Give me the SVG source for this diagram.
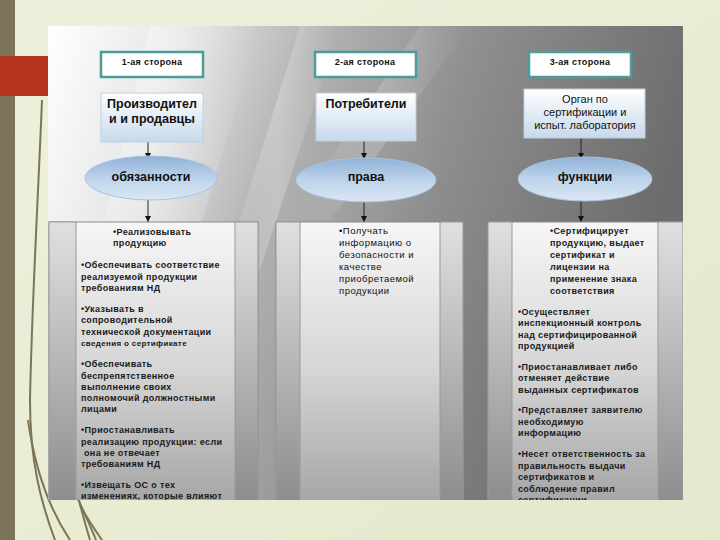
<svg xmlns="http://www.w3.org/2000/svg" width="720" height="540" viewBox="0 0 720 540">
<defs>
<linearGradient id="page" x1="0" y1="0" x2="1" y2="1">
<stop offset="0" stop-color="#eef0dc"/><stop offset="1" stop-color="#e3e9cc"/>
</linearGradient>
<linearGradient id="pic" x1="0" y1="0" x2="1" y2="0.25">
<stop offset="0" stop-color="#ffffff"/><stop offset="0.2" stop-color="#e6e6e6"/><stop offset="0.4" stop-color="#b4b4b4"/><stop offset="0.65" stop-color="#8e8e8e"/><stop offset="1" stop-color="#6c6c6c"/>
</linearGradient>
<linearGradient id="streak" x1="0" y1="0" x2="1" y2="0">
<stop offset="0" stop-color="#fff" stop-opacity="0"/><stop offset="0.5" stop-color="#fff" stop-opacity="0.35"/><stop offset="1" stop-color="#fff" stop-opacity="0"/>
</linearGradient>
<linearGradient id="boxfill" x1="0" y1="0" x2="0" y2="1">
<stop offset="0" stop-color="#ffffff"/><stop offset="1" stop-color="#c6d9ec"/>
</linearGradient>
<linearGradient id="ellfill" x1="0" y1="0" x2="0" y2="1">
<stop offset="0" stop-color="#8fb2d8"/><stop offset="0.5" stop-color="#bdd3ea"/><stop offset="1" stop-color="#dbe7f3"/>
</linearGradient>
<linearGradient id="tab" x1="0" y1="0" x2="0" y2="1">
<stop offset="0" stop-color="#f6f6f6"/><stop offset="0.5" stop-color="#d6d6d6"/><stop offset="1" stop-color="#a2a2a2"/>
</linearGradient>
<linearGradient id="side" x1="0" y1="0" x2="0" y2="1">
<stop offset="0" stop-color="#e0e0e0"/><stop offset="1" stop-color="#8a8a8a"/>
</linearGradient>
<marker id="ah" viewBox="0 0 10 10" refX="10" refY="5" markerWidth="6" markerHeight="6" orient="auto">
<path d="M0,0 L10,5 L0,10 z" fill="#111"/>
</marker>
<clipPath id="picclip"><rect x="48" y="26" width="635" height="474"/></clipPath>
<style>
.hdr{fill:#ffffff;stroke:#4b9c9c;stroke-width:2.5}
.hdrt{font-family:"Liberation Sans",Arial,sans-serif;font-size:9px;font-weight:bold;fill:#111;text-anchor:middle;letter-spacing:0.3px}
.box{fill:url(#boxfill);stroke:#c0cfdd;stroke-width:1}
.boxt{font-family:"Liberation Sans",Arial,sans-serif;font-size:12.5px;font-weight:bold;fill:#111;text-anchor:middle}
.boxn{font-family:"Liberation Sans",Arial,sans-serif;font-size:11px;fill:#111;text-anchor:middle}
.ell{fill:url(#ellfill);stroke:#a9c3de;stroke-width:1}
.ellt{font-family:"Liberation Sans",Arial,sans-serif;font-size:12.5px;font-weight:bold;fill:#111;text-anchor:middle}
.tab{fill:url(#tab);stroke:#8a8a8a;stroke-width:1}
.side{fill:url(#side);stroke:#999;stroke-width:1}
.tt{font-family:"Liberation Sans",Arial,sans-serif;font-size:9px;font-weight:bold;fill:#1a1a1a;letter-spacing:0.35px}
.tn{font-family:"Liberation Sans",Arial,sans-serif;font-size:9.5px;fill:#111;letter-spacing:0.5px}
.conn{stroke:#222;stroke-width:1;fill:none;marker-end:url(#ah)}
.deco{fill:none;stroke:#7d7656;stroke-width:2}
</style>
</defs>
<rect width="720" height="540" fill="url(#page)"/>
<rect x="0" y="0" width="15" height="540" fill="#7b7458"/>
<g id="decoration">
<path class="deco" d="M42,100 C38,200 32,300 30,400 C30,460 40,500 55,540" stroke-width="1.5"/>
<path class="deco" d="M60,380 C62,430 72,480 90,540" stroke-width="2.5"/>
<path class="deco" d="M70,480 C80,505 88,520 96,540" stroke-width="3"/>
<path class="deco" d="M28,420 C35,470 50,510 70,540" stroke="#c8caa8" stroke-width="3"/>
<path class="deco" d="M80,505 C88,520 95,530 102,540" stroke-width="2"/>
</g>
<rect x="0" y="56" width="48" height="40" fill="#b3341b"/>
<g clip-path="url(#picclip)">
<rect x="48" y="26" width="635" height="474" fill="url(#pic)"/>
<polygon points="150,26 260,26 120,500 40,500" fill="url(#streak)"/>
<polygon points="300,26 340,26 250,300 215,300" fill="url(#streak)" opacity="0.7"/>
<polygon points="420,26 470,26 330,220 290,220" fill="url(#streak)" opacity="0.5"/>
</g>
<g id="connectors">
<line class="conn" x1="148" y1="142" x2="148" y2="159"/>
<line class="conn" x1="364" y1="141" x2="364" y2="159"/>
<line class="conn" x1="581" y1="138" x2="581" y2="159"/>
<line class="conn" x1="148" y1="199" x2="148" y2="222"/>
<line class="conn" x1="364" y1="201" x2="364" y2="222"/>
<line class="conn" x1="581" y1="200" x2="581" y2="222"/>
</g>
<g id="side1-header"><rect class="hdr" x="101" y="52" width="102" height="25"/><text class="hdrt" x="152" y="65">1-ая сторона</text></g>
<g id="side2-header"><rect class="hdr" x="315" y="52" width="101" height="25"/><text class="hdrt" x="365" y="65">2-ая сторона</text></g>
<g id="side3-header"><rect class="hdr" x="529" y="52" width="102" height="25"/><text class="hdrt" x="580" y="65">3-ая сторона</text></g>
<g id="producers"><rect class="box" x="101" y="93" width="102" height="49"/><text class="boxt" x="152" y="108">Производител</text><text class="boxt" x="152" y="123">и и продавцы</text></g>
<g id="consumers"><rect class="box" x="316" y="93" width="100" height="48"/><text class="boxt" x="366" y="108">Потребители</text></g>
<g id="certbody"><rect class="box" x="524" y="89" width="121" height="49"/><text class="boxn" x="585" y="103">Орган по</text><text class="boxn" x="585" y="116">сертификации и</text><text class="boxn" x="585" y="129">испыт. лаборатория</text></g>
<g id="duties"><ellipse class="ell" cx="151" cy="178" rx="66" ry="22"/><text class="ellt" x="151" y="181">обязанности</text></g>
<g id="rights"><ellipse class="ell" cx="366" cy="180" rx="70" ry="22"/><text class="ellt" x="366" y="181">права</text></g>
<g id="functions"><ellipse class="ell" cx="585" cy="179" rx="67" ry="22"/><text class="ellt" x="585" y="181">функции</text></g>
<g clip-path="url(#picclip)">
<g id="table1">
<rect class="tab" x="49" y="222" width="209" height="290"/>
<rect class="side" x="49" y="222" width="27" height="290"/>
<rect class="side" x="235" y="222" width="23" height="290"/>
<text class="tt"><tspan x="113" y="235">•Реализовывать</tspan><tspan x="113" y="246">продукцию</tspan>
<tspan x="81" y="268">•Обеспечивать  соответствие</tspan><tspan x="81" y="280">реализуемой продукции</tspan><tspan x="81" y="291">требованиям НД</tspan>
<tspan x="81" y="312">•Указывать в</tspan><tspan x="81" y="323">сопроводительной</tspan><tspan x="81" y="335">технической документации</tspan><tspan x="81" y="346" font-size="8px">сведения о сертификате</tspan>
<tspan x="81" y="367">•Обеспечивать</tspan><tspan x="81" y="379">беспрепятственное</tspan><tspan x="81" y="390">выполнение своих</tspan><tspan x="81" y="401">полномочий должностными</tspan><tspan x="81" y="412">лицами</tspan>
<tspan x="81" y="433">•Приостанавливать</tspan><tspan x="81" y="445">реализацию продукции: если</tspan><tspan x="84" y="456">она не отвечает</tspan><tspan x="81" y="467">требованиям НД</tspan>
<tspan x="81" y="488">•Извещать ОС о тех</tspan><tspan x="81" y="499">изменениях, которые влияют</tspan></text>
</g>
<g id="table2">
<rect class="tab" x="276" y="222" width="187" height="290"/>
<rect class="side" x="276" y="222" width="24" height="290"/>
<rect class="side" x="440" y="222" width="23" height="290"/>
<text class="tn"><tspan x="339" y="234">•Получать</tspan><tspan x="339" y="246">информацию о</tspan><tspan x="339" y="258">безопасности  и</tspan><tspan x="339" y="270">качестве</tspan><tspan x="339" y="282">приобретаемой</tspan><tspan x="339" y="294">продукции</tspan></text>
</g>
<g id="table3">
<rect class="tab" x="488" y="222" width="195" height="290"/>
<rect class="side" x="488" y="222" width="24" height="290"/>
<rect class="side" x="658" y="222" width="25" height="290"/>
<text class="tt"><tspan x="550" y="234">•Сертифицирует</tspan><tspan x="550" y="246">продукцию, выдает</tspan><tspan x="550" y="258">сертификат и</tspan><tspan x="550" y="270">лицензии на</tspan><tspan x="550" y="282">применение знака</tspan><tspan x="550" y="294">соответствия</tspan>
<tspan x="518" y="315">•Осуществляет</tspan><tspan x="518" y="326">инспекционный контроль</tspan><tspan x="518" y="338">над сертифицированной</tspan><tspan x="518" y="349">продукцией</tspan>
<tspan x="518" y="370">•Приостанавливает либо</tspan><tspan x="518" y="381">отменяет действие</tspan><tspan x="518" y="393">выданных сертификатов</tspan>
<tspan x="518" y="413">•Представляет заявителю</tspan><tspan x="518" y="425">необходимую</tspan><tspan x="518" y="436">информацию</tspan>
<tspan x="518" y="457">•Несет ответственность за</tspan><tspan x="518" y="469">правильность выдачи</tspan><tspan x="518" y="480">сертификатов и</tspan><tspan x="518" y="492">соблюдение правил</tspan><tspan x="518" y="503">сертификации</tspan></text>
</g>
</g>
</svg>
